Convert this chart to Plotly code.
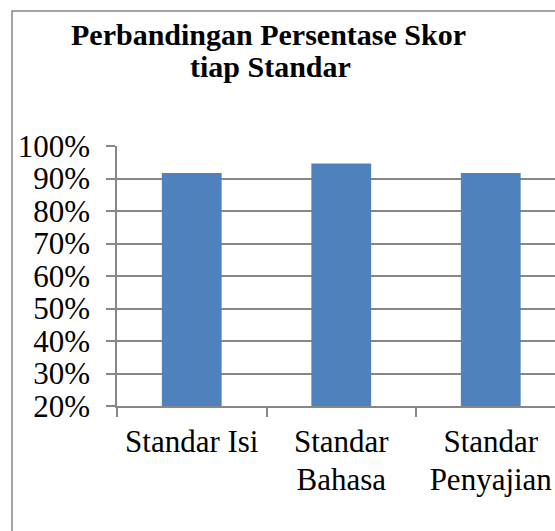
import plotly.graph_objects as go

categories = ["Standar Isi", "Standar Bahasa", "Standar Penyajian"]
label_line1 = ["Standar Isi", "Standar", "Standar"]
label_line2 = ["", "Bahasa", "Penyajian"]
scores = [0.917, 0.946, 0.917]
y_ticks = [0.2, 0.3, 0.4, 0.5, 0.6, 0.7, 0.8, 0.9, 1.0]
y_tick_labels = ["20%", "30%", "40%", "50%", "60%", "70%", "80%", "90%", "100%"]
title_line1 = "Perbandingan Persentase Skor"
title_line2 = "tiap Standar"

W, H = 555, 531
ML, MR, MT, MB = 117, 0, 146, 125
pw, ph = W - ML - MR, H - MT - MB
cat_w = 149.5

grid = "#878787"
font = "Liberation Serif, Times New Roman, serif"
FS = 31

fig = go.Figure()
fig.add_trace(go.Bar(
    x=categories, y=scores, name="Skor",
    marker=dict(color="#4F81BD", line=dict(width=0)),
    width=0.4,
))
# invisible companion trace so the second label row axis is drawn
fig.add_trace(go.Scatter(
    x=categories, y=scores, xaxis="x2", yaxis="y", mode="markers",
    marker=dict(opacity=0), hoverinfo="skip", showlegend=False,
))

xrange = [-0.5, -0.5 + pw / cat_w]

fig.update_layout(
    width=W, height=H,
    margin=dict(l=ML, r=MR, t=MT, b=MB, pad=0),
    paper_bgcolor="white", plot_bgcolor="white",
    showlegend=False,
    font=dict(family=font, color="black", size=FS),
    xaxis=dict(
        type="category", range=xrange,
        tickmode="array", tickvals=categories, ticktext=label_line1,
        tickson="boundaries", ticks="outside", ticklen=9, tickwidth=1.5, tickcolor=grid,
        showline=True, linecolor=grid, linewidth=1.5,
        showgrid=False, zeroline=False,
        ticklabelstandoff=7,
        tickfont=dict(family=font, size=FS, color="black"),
    ),
    xaxis2=dict(
        type="category", overlaying="x", anchor="y", side="bottom",
        range=xrange,
        tickmode="array", tickvals=categories, ticktext=label_line2,
        ticks="", showline=False, showgrid=False, zeroline=False,
        ticklabelstandoff=52,
        tickfont=dict(family=font, size=FS, color="black"),
    ),
    yaxis=dict(
        range=[0.2, 1.0],
        tickmode="array", tickvals=y_ticks, ticktext=y_tick_labels,
        ticks="outside", ticklen=9, tickwidth=1.5, tickcolor=grid,
        showline=True, linecolor=grid, linewidth=1.5,
        showgrid=True, gridcolor=grid, gridwidth=1.5,
        zeroline=False,
        ticklabelstandoff=10,
        tickfont=dict(family=font, size=FS, color="black"),
    ),
    annotations=[
        dict(text="<b>%s</b>" % title_line1, xref="paper", yref="paper",
             x=(268 - ML) / pw, y=(H - MB - 34) / ph, xanchor="center", yanchor="middle",
             showarrow=False, font=dict(family=font, size=30, color="black")),
        dict(text="<b>%s</b>" % title_line2, xref="paper", yref="paper",
             x=(270 - ML) / pw, y=(H - MB - 67) / ph, xanchor="center", yanchor="middle",
             showarrow=False, font=dict(family=font, size=30, color="black")),
    ],
    shapes=[dict(
        type="rect", xref="paper", yref="paper", layer="below",
        x0=(12 - ML) / pw, x1=1.3,
        y0=-1.0, y1=(H - MB - 11) / ph,
        line=dict(color=grid, width=1.5), fillcolor="rgba(0,0,0,0)",
    )],
)

fig.write_html(
    "out.html",
    config={"displayModeBar": False},
    post_script="document.body.style.margin='0';document.body.style.overflow='hidden';",
)
